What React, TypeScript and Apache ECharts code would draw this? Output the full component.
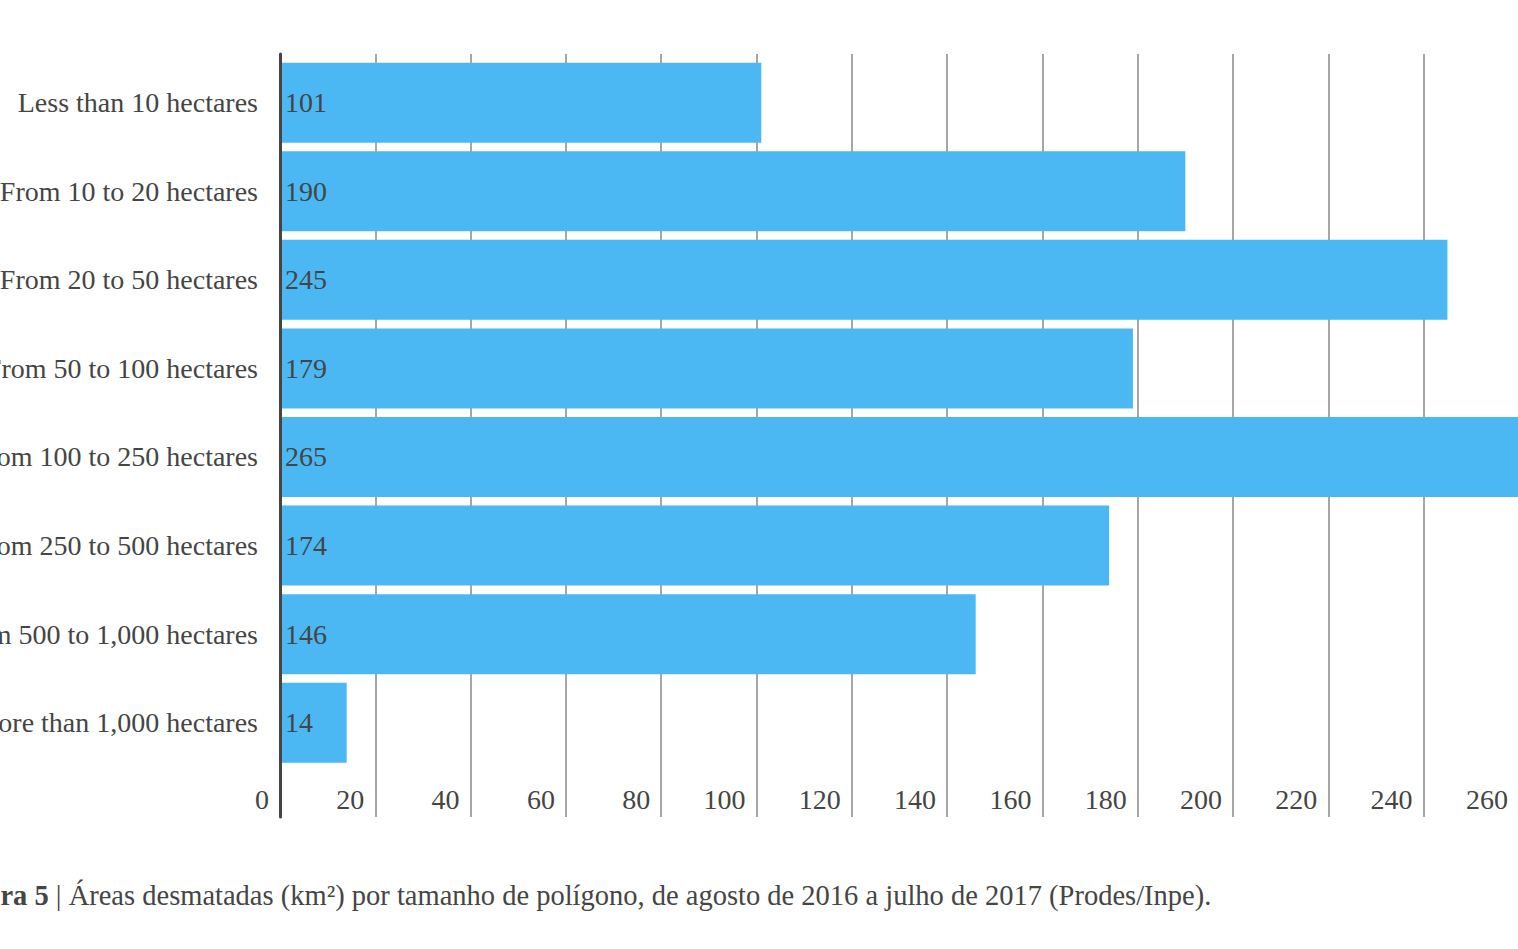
import React, { useEffect, useRef } from "react";
import * as echarts from "echarts";

const categories = [
  "Less than 10 hectares",
  "From 10 to 20 hectares",
  "From 20 to 50 hectares",
  "From 50 to 100 hectares",
  "From 100 to 250 hectares",
  "From 250 to 500 hectares",
  "From 500 to 1,000 hectares",
  "More than 1,000 hectares",
];
const values = [101, 190, 245, 179, 265, 174, 146, 14];
const axisMax = 280;
const axisStep = 20;
const captionBold = "Figura 5";
const captionRest = " | Áreas desmatadas (km²) por tamanho de polígono, de agosto de 2016 a julho de 2017 (Prodes/Inpe).";

const FONT = "Liberation Serif";
const TEXT = "#454545";
const FS = 28;
const CAP_FS = 28.5;

export default function App() {
  const ref = useRef<HTMLDivElement>(null);
  useEffect(() => {
    if (!ref.current) return;
    const chart = echarts.init(ref.current, undefined, { renderer: "svg" });
    const plotLeft = 280;
    const plotWidth = axisMax * 4.765;
    const chartWidth = 1700;
    const right = chartWidth - plotLeft - plotWidth;
    chart.setOption({
      animation: false,
      textStyle: { fontFamily: FONT },
      grid: [
        { left: plotLeft, right, top: 54, bottom: 949 - 817, outerBoundsMode: "none", containLabel: false },
        { left: plotLeft, right, top: 58.4, height: 708.6, outerBoundsMode: "none", containLabel: false },
      ],
      xAxis: [
        {
          gridIndex: 0,
          type: "value",
          min: 0,
          max: axisMax,
          interval: axisStep,
          axisLine: { show: false },
          axisTick: { show: false },
          splitLine: { show: true, lineStyle: { color: "#a6a6a6", width: 2 } },
          axisLabel: {
            margin: -18,
            verticalAlign: "middle",
            align: "right",
            padding: [0, 11, 0, 0],
            color: TEXT,
            fontSize: FS,
            fontFamily: FONT,
          },
        },
        {
          gridIndex: 1,
          type: "value",
          min: 0,
          max: axisMax,
          show: false,
        },
      ],
      yAxis: [
        {
          gridIndex: 0,
          type: "value",
          min: 0,
          max: 1,
          z: 5,
          axisLine: { show: true, lineStyle: { color: "#444444", width: 3 } },
          axisTick: { show: false },
          axisLabel: { show: false },
          splitLine: { show: false },
        },
        {
          gridIndex: 1,
          type: "category",
          inverse: true,
          data: categories,
          axisLine: { show: false },
          axisTick: { show: false },
          axisLabel: {
            margin: 22,
            color: TEXT,
            fontSize: FS,
            fontFamily: FONT,
          },
        },
      ],
      series: [
        {
          type: "scatter",
          xAxisIndex: 0,
          yAxisIndex: 0,
          data: [],
        },
        {
          type: "bar",
          xAxisIndex: 1,
          yAxisIndex: 1,
          data: values,
          barWidth: 80,
          itemStyle: { color: "#4bb8f3" },
          label: {
            show: true,
            position: "insideLeft",
            distance: 5,
            color: TEXT,
            fontSize: FS,
            fontFamily: FONT,
          },
        },
      ],
      graphic: [
        {
          type: "text",
          left: -55,
          top: 881,
          style: {
            text: "{b|" + captionBold + "}{r|" + captionRest + "}",
            fill: TEXT,
            font: `${CAP_FS}px "${FONT}"`,
            rich: {
              b: { fontWeight: "bold", fontSize: CAP_FS, fontFamily: FONT, fill: TEXT },
              r: { fontSize: CAP_FS, fontFamily: FONT, fill: TEXT },
            },
          },
        },
      ],
    });
    return () => chart.dispose();
  }, []);
  return (
    <div style={{ position: "absolute", left: 0, top: 0, width: 1518, height: 949, overflow: "hidden", background: "#fff" }}>
      <div ref={ref} style={{ width: 1700, height: 949 }} />
    </div>
  );
}
